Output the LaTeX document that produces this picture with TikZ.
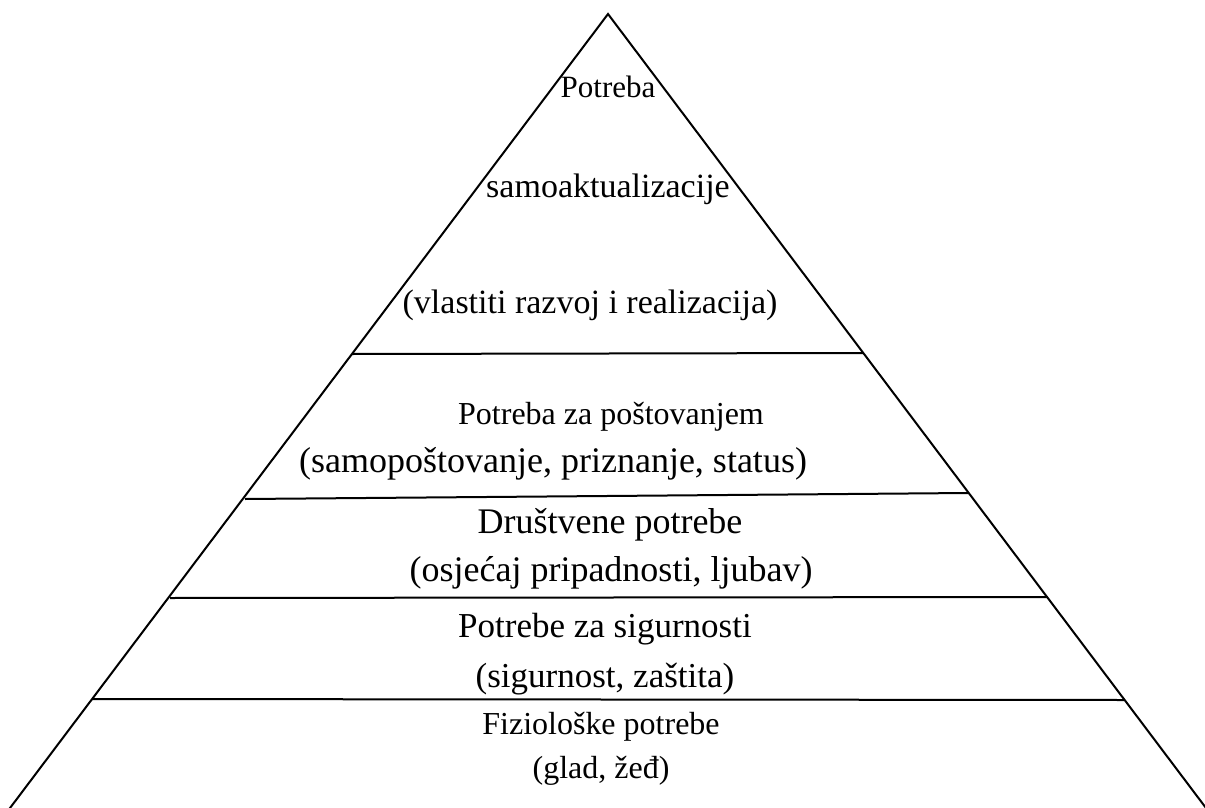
\documentclass[tikz,border=0pt]{standalone}
\usepackage{fontspec}
\setmainfont{Liberation Serif}
\usepackage{tikz}
\usetikzlibrary{positioning,calc}

\begin{document}
\begin{tikzpicture}[x=1pt,y=-1pt,line width=2pt,
  needtext/.style={font=\fontsize{#1}{#1}\selectfont, anchor=base, inner sep=0pt},
  needtext/.default=34]
\useasboundingbox (0,0) rectangle (1205,808);

% Pyramid outline
\coordinate (apex) at (608,14);
\coordinate (baseL) at (1,820);
\coordinate (baseR) at (1215,820);
\begin{scope}
\clip (0,0) rectangle (1205,808);
\draw (baseL) -- (apex) -- (baseR);
\end{scope}

% Level separators
\draw (352,354) -- (863,353);
\draw (245,499) -- (968,493);
\draw (170,598) -- (1047,597);
\draw (92,699) -- (1124,700);

% Self-actualization
\node[needtext=31] (self1) at (608,97) {Potreba};
\node[needtext] (self2) at (608,197) {samoaktualizacije};
\node[needtext] (self3) at (590,313) {(vlastiti razvoj i realizacija)};

% Esteem
\node[needtext=32] (esteem1) at (611,424) {Potreba za poštovanjem};
\node[needtext=36] (esteem2) at (553,472) {(samopoštovanje, priznanje, status)};

% Social
\node[needtext=36] (social1) at (610,533) {Društvene potrebe};
\node[needtext=36] (social2) at (611,581) {(osjećaj pripadnosti, ljubav)};

% Safety
\node[needtext=35] (safety1) at (605,637) {Potrebe za sigurnosti};
\node[needtext=35] (safety2) at (605,687) {(sigurnost, zaštita)};

% Physiological
\node[needtext=32] (phys1) at (601,734) {Fiziološke potrebe};
\node[needtext=32] (phys2) at (601,778) {(glad, žeđ)};
\end{tikzpicture}
\end{document}
